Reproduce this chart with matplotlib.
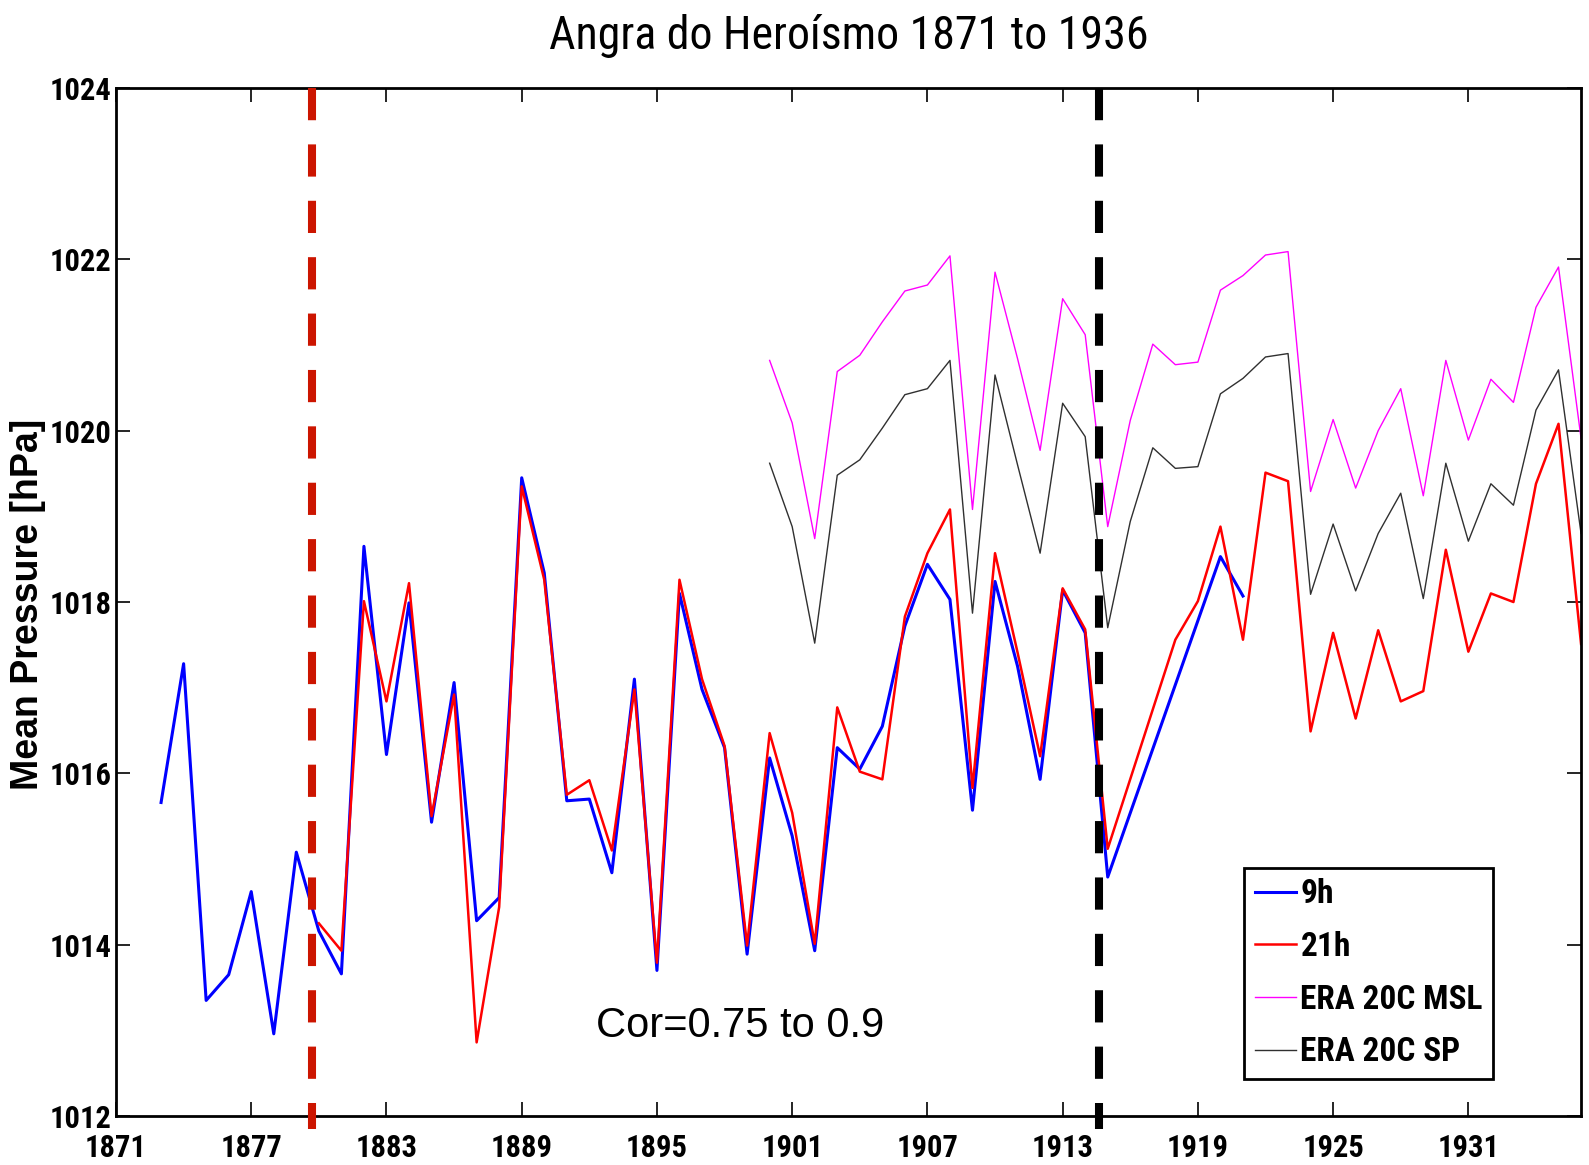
"""Angra do Heroismo mean pressure, station vs ERA-20C."""

import matplotlib

matplotlib.use("Agg")
import matplotlib.pyplot as plt  # noqa: E402
from matplotlib import font_manager  # noqa: E402

# ---- data ----
years_9h = list(range(1873, 1916)) + [1920, 1921]
p_9h = [
    1015.66, 1017.28, 1013.35, 1013.65, 1014.62, 1012.96, 1015.08, 1014.16,
    1013.66, 1018.65, 1016.22, 1017.99, 1015.43, 1017.06, 1014.28, 1014.55,
    1019.45, 1018.34, 1015.68, 1015.70, 1014.84, 1017.10, 1013.70, 1018.10,
    1016.98, 1016.30, 1013.89, 1016.18, 1015.27, 1013.93, 1016.30, 1016.05,
    1016.55, 1017.72, 1018.44, 1018.03, 1015.57, 1018.24, 1017.25, 1015.93,
    1018.14, 1017.64, 1014.79, 1018.53, 1018.07,
]

years_21h = list(range(1880, 1916)) + list(range(1918, 1937))
p_21h = [
    1014.25, 1013.93, 1018.01, 1016.84, 1018.22, 1015.50, 1016.92, 1012.86,
    1014.44, 1019.35, 1018.26, 1015.75, 1015.92, 1015.10, 1016.98, 1013.79,
    1018.26, 1017.10, 1016.32, 1013.99, 1016.47, 1015.54, 1014.01, 1016.77,
    1016.02, 1015.93, 1017.83, 1018.57, 1019.08, 1015.83, 1018.57, 1017.41,
    1016.20, 1018.16, 1017.68, 1015.12,
    1017.56, 1018.01, 1018.88, 1017.56, 1019.51, 1019.41, 1016.49, 1017.64,
    1016.64, 1017.67, 1016.84, 1016.96, 1018.61, 1017.42, 1018.10, 1018.00,
    1019.38, 1020.08, 1017.51,
]

years_era = list(range(1900, 1937))
p_msl = [
    1020.82, 1020.09, 1018.74, 1020.69, 1020.88, 1021.27, 1021.63, 1021.70,
    1022.04, 1019.08, 1021.85, 1020.84, 1019.77, 1021.54, 1021.12, 1018.88,
    1020.12, 1021.01, 1020.77, 1020.80, 1021.64, 1021.81, 1022.05, 1022.09,
    1019.29, 1020.13, 1019.33, 1020.00, 1020.49, 1019.24, 1020.82, 1019.89,
    1020.60, 1020.33, 1021.44, 1021.91, 1019.91,
]
p_sp = [
    1019.62, 1018.88, 1017.52, 1019.48, 1019.66, 1020.03, 1020.42, 1020.49,
    1020.82, 1017.87, 1020.65, 1019.60, 1018.57, 1020.32, 1019.93, 1017.70,
    1018.94, 1019.80, 1019.56, 1019.58, 1020.43, 1020.61, 1020.86, 1020.90,
    1018.09, 1018.91, 1018.13, 1018.80, 1019.27, 1018.04, 1019.62, 1018.71,
    1019.38, 1019.13, 1020.24, 1020.71, 1018.80,
]

break_years = [1879.7, 1914.6]
x_ticks = list(range(1871, 1936, 6))
y_ticks = list(range(1012, 1025, 2))
note = "Cor=0.75 to 0.9"


def pick_font(*names: str) -> str:
    avail = {f.name for f in font_manager.fontManager.ttflist}
    for n in names:
        if n in avail:
            return n
    return "DejaVu Sans"


NARROW = pick_font("Liberation Sans Narrow", "Roboto Condensed", "DejaVu Sans Condensed",
                   "Liberation Sans")
ARIAL = pick_font("Liberation Sans", "Arimo", "DejaVu Sans")

fig = plt.figure(figsize=(15.89, 11.65), dpi=100)
ax = fig.add_axes([0.073, 0.042, 0.922, 0.8825])

ax.plot(years_9h, p_9h, color="#0000ff", lw=2.2, label="9h")
ax.plot(years_21h, p_21h, color="#ff0000", lw=1.8, label="21h")
ax.plot(years_era, p_msl, color="#ff00ff", lw=1.0, label="ERA 20C MSL")
ax.plot(years_era, p_sp, color="#303030", lw=1.0, label="ERA 20C SP")

# homogeneity break markers
for yr, col in zip(break_years, ["#cc1500", "black"]):
    ax.plot([yr, yr], [1024, 1011.85], color=col, lw=5.8, dashes=(4.0, 3.0),
            clip_on=False, zorder=3)

ax.set_xlim(1871, 1936)
ax.set_ylim(1012, 1024)
ax.set_xticks(x_ticks)
ax.set_yticks(y_ticks)
ax.tick_params(direction="in", length=10, width=1.2, top=True, right=True,
               labelsize=22)
ax.tick_params(axis="x", pad=12)
ax.tick_params(axis="y", pad=3)
for lab in ax.get_xticklabels() + ax.get_yticklabels():
    lab.set_fontfamily(NARROW)
    lab.set_fontweight("bold")
for sp in ax.spines.values():
    sp.set_linewidth(2.0)

ax.text(1892.3, 1013.05, note, fontsize=30, family=ARIAL, ha="left", va="center")

leg = ax.legend(loc="lower left", bbox_to_anchor=(0.770, 0.036), borderaxespad=0,
                fancybox=False, framealpha=1, edgecolor="black", handlelength=1.25,
                handletextpad=0.12, labelspacing=0.62, borderpad=0.32,
                prop={"family": NARROW, "weight": "bold", "size": 24})
leg.get_frame().set_linewidth(2.0)

fig.text(0.534, 0.9695, "Angra do Heroísmo 1871 to 1936", family=NARROW,
         fontsize=33, ha="center", va="center")
fig.text(0.0179, 0.481, "Mean Pressure [hPa]", family=ARIAL, fontweight="bold",
         fontsize=27, rotation=90, ha="center", va="center")

fig.savefig("out.png", dpi=100)
